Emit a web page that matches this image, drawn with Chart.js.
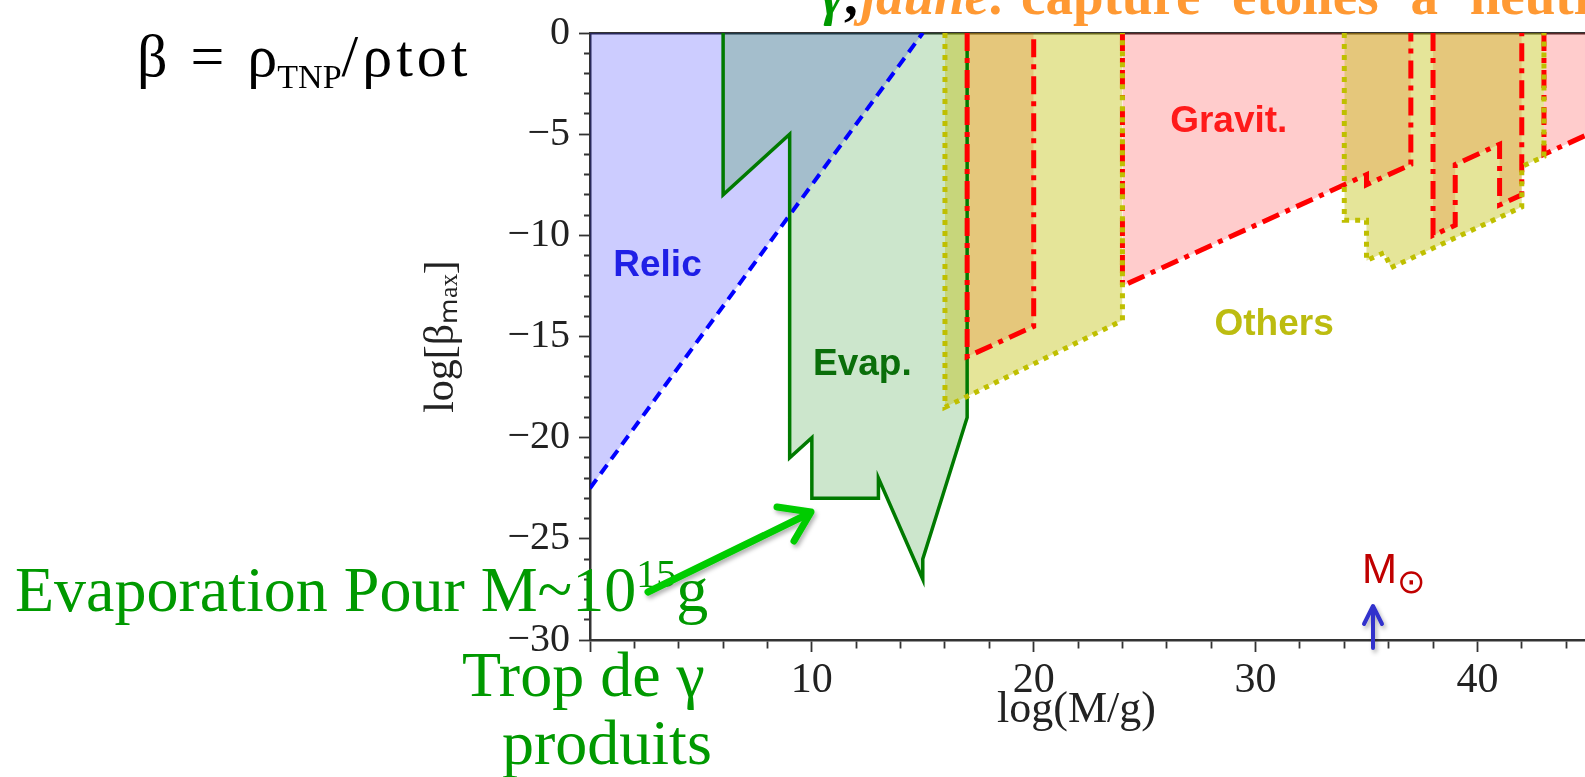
<!DOCTYPE html>
<html>
<head>
<meta charset="utf-8">
<script src="https://cdn.jsdelivr.net/npm/chart.js@4.4.1/dist/chart.umd.min.js"></script>
<style>
  html, body { margin: 0; padding: 0; background: #fff; overflow: hidden; }
  #wrap { position: relative; width: 1585px; height: 777px; overflow: hidden; }
  #chart { position: absolute; left: 0; top: 0; }
  .txt { position: absolute; white-space: nowrap; line-height: 1; font-family: "Liberation Serif", "Times New Roman", serif; }
  svg { position: absolute; left: 0; top: 0; }
</style>
</head>
<body>
<div id="wrap">
  <canvas id="chart" width="1585" height="777"></canvas>

  <div class="txt" style="left:821px; top:-32px; font-size:55px; font-weight:bold; color:#ff9933;"><span style="color:#009900; font-style:italic;">γ</span><span style="color:#000;">,</span><span style="margin-left:3px;"><i>jaune:</i></span> <span style="word-spacing:18px;">capture étoiles à neutrons</span></div>
  <div class="txt" style="left:137px; top:26px; font-size:60px; color:#000; word-spacing:8px;">β = ρ<span style="font-size:34px; position:relative; top:12px;">TNP</span><span style="letter-spacing:4px;">/ρtot</span></div>
  <div class="txt" style="left:15px; top:558px; font-size:64px; color:#009900;">Evaporation Pour M~10<span style="font-size:40px; position:relative; top:-24px;">15</span>g</div>
  <div class="txt" style="left:462px; top:643px; font-size:64px; color:#009900;">Trop de γ</div>
  <div class="txt" style="left:502px; top:711px; font-size:64px; color:#009900;">produits</div>
  <div class="txt" style="left:1362px; top:548px; font-size:42px; color:#c00000; font-family:'Liberation Sans', sans-serif;">M<span style="font-size:34px; position:relative; top:10px;">⊙</span></div>

  <svg width="1585" height="777" viewBox="0 0 1585 777">
    <defs>
      <filter id="sh" x="-20%" y="-20%" width="140%" height="140%">
        <feDropShadow dx="2" dy="3" stdDeviation="2" flood-color="#000" flood-opacity="0.3"/>
      </filter>
    </defs>
    <g filter="url(#sh)" fill="none" stroke-linecap="round" stroke-linejoin="round">
      <line x1="648" y1="592" x2="808" y2="514" stroke="#00cc00" stroke-width="7"/>
      <polyline points="777,507 811,512 794,541" stroke="#00cc00" stroke-width="7"/>
      <line x1="1373" y1="648" x2="1373" y2="608" stroke="#3333cc" stroke-width="4"/>
      <polyline points="1364,624 1373,606 1382,624" stroke="#3333cc" stroke-width="4"/>
    </g>
  </svg>
</div>

<script>
// limites : x = log(M/g), y = log(beta_max)
const relicX = [0, 15];
const relicY = [-22.5, 0];

const evapX = [6, 6, 9, 9, 10, 10, 13, 13, 15, 15, 17, 17];
const evapY = [0, -8, -5, -21, -20, -23, -23, -22, -27, -26, -19, 0];

const gravitAX = [17, 17, 20, 20];
const gravitAY = [0, -16, -14.5, 0];
const gravitBX = [24, 24, 35, 35, 37, 37];
const gravitBY = [0, -12.5, -7, -7.5, -6.5, 0];
const gravitCX = [38, 38, 39, 39, 41, 41, 42, 42];
const gravitCY = [0, -10, -9.5, -6.5, -5.5, -8.5, -8, 0];
const gravitDX = [43, 43, 47];
const gravitDY = [0, -6, -4];

const othersAX = [16, 16, 24, 24];
const othersAY = [0, -18.5, -14.2, 0];
const othersBX = [34, 34, 35, 35, 35.8, 36.1, 42, 42, 43, 43];
const othersBY = [0, -9.25, -9.25, -11.25, -10.85, -11.6, -8.6, -6.6, -6.1, 0];

// etiquettes des regions
const labelTexts = ['Relic', 'Evap.', 'Gravit.', 'Others'];
const labelX = [1.05, 10.05, 26.15, 28.15];
const labelY = [-12.0, -16.9, -4.9, -14.95];

// ticks
const xMajor = [10, 20, 30, 40];
const yMajor = [-30, -25, -20, -15, -10, -5, 0];
const xTicks = [];
for (let v = 0; v <= 44; v += 2) xTicks.push(v);
const yTicks = [];
for (let v = -30; v <= 0; v++) yTicks.push(v);

function pts(xs, ys) {
  return xs.map((x, i) => ({x: x, y: ys[i]}));
}

function fmt(v) {
  return v < 0 ? '\u2212' + (-v) : String(v);
}

const yellow = {borderColor: 'rgb(191,191,0)', backgroundColor: 'rgba(191,191,0,0.4)', borderDash: [5, 6], borderWidth: 5, fill: {value: 0}};
const red = {borderColor: '#ff0000', backgroundColor: 'rgba(255,0,0,0.2)', borderDash: [18, 7, 5, 7], borderWidth: 5, fill: {value: 0}};

const labelColors = ['#1f1fe6', '#0a6e0a', '#ff1a1a', '#bcbc10'];

const regionLabels = {
  id: 'regionLabels',
  afterDatasetsDraw(chart) {
    const c = chart.ctx;
    const x = chart.scales.x, y = chart.scales.y;
    c.save();
    c.font = 'bold 37px "Liberation Sans", sans-serif';
    c.textAlign = 'left';
    c.textBaseline = 'alphabetic';
    labelTexts.forEach((t, i) => {
      c.fillStyle = labelColors[i];
      c.fillText(t, x.getPixelForValue(labelX[i]), y.getPixelForValue(labelY[i]));
    });
    c.restore();
  }
};

const ctx = document.getElementById('chart').getContext('2d');

new Chart(ctx, {
  type: 'line',
  data: {
    datasets: [
      Object.assign({label: 'Others', data: pts(othersAX, othersAY)}, yellow),
      Object.assign({label: 'Others', data: pts(othersBX, othersBY)}, yellow),
      Object.assign({label: 'Gravit.', data: pts(gravitAX, gravitAY)}, red),
      Object.assign({label: 'Gravit.', data: pts(gravitBX, gravitBY)}, red),
      Object.assign({label: 'Gravit.', data: pts(gravitCX, gravitCY)}, red),
      Object.assign({label: 'Gravit.', data: pts(gravitDX, gravitDY)}, red),
      {label: 'Evap.', data: pts(evapX, evapY), borderColor: '#007a00', backgroundColor: 'rgba(0,128,0,0.2)', borderWidth: 3.5, fill: {value: 0}},
      {label: 'Relic', data: pts(relicX, relicY), borderColor: '#0000ff', backgroundColor: 'rgba(0,0,255,0.2)', borderDash: [11, 7], borderWidth: 4, fill: {value: 0}}
    ]
  },
  options: {
    responsive: false,
    animation: false,
    devicePixelRatio: 1,
    layout: {padding: {left: 405, top: 28, right: 0, bottom: 0}},
    plugins: {
      legend: {display: false},
      tooltip: {enabled: false},
      filler: {drawTime: 'beforeDatasetsDraw'}
    },
    elements: {point: {radius: 0}, line: {tension: 0}},
    scales: {
      x: {
        type: 'linear', position: 'bottom', min: 0, max: 44.85,
        afterFit(s) { s.height = 137; },
        afterBuildTicks(s) { s.ticks = xTicks.map(v => ({value: v})); },
        ticks: {
          autoSkip: false, maxRotation: 0, padding: 4, color: '#222',
          font: {family: 'Liberation Serif', size: 42},
          callback: v => xMajor.includes(v) ? String(v) : ''
        },
        grid: {
          drawOnChartArea: false, drawTicks: true, tickLength: 12, tickColor: '#333', tickWidth: 1.8,
          tickBorderDash: c => (c.tick && c.tick.value % 10 === 0) ? [] : [7, 100]
        },
        border: {display: true, color: '#333', width: 2.5},
        title: {display: true, text: 'log(M/g)  ', color: '#222', font: {family: 'Liberation Serif', size: 44}, padding: {top: 0, bottom: 40}}
      },
      y: {
        type: 'linear', position: 'left', min: -30, max: 0,
        afterFit(s) { s.width = 185; },
        afterBuildTicks(s) { s.ticks = yTicks.map(v => ({value: v})); },
        ticks: {
          autoSkip: false, padding: 9, color: '#222',
          font: {family: 'Liberation Serif', size: 40},
          callback: v => yMajor.includes(v) ? fmt(v) : ''
        },
        grid: {
          drawOnChartArea: false, drawTicks: true, tickLength: 11, tickColor: '#333', tickWidth: 1.8,
          tickBorderDash: c => (c.tick && c.tick.value % 5 === 0) ? [] : [0, 5, 6, 100]
        },
        border: {display: true, color: '#333', width: 2.5},
        title: {display: true, text: 'log[βₘₐₓ]', color: '#222', font: {family: 'Liberation Serif', size: 42}, padding: {top: 12, bottom: 0}}
      },
      xt: {
        type: 'linear', position: 'top', min: 0, max: 44.85,
        afterFit(s) { s.height = 0; },
        ticks: {display: false},
        grid: {display: false, drawTicks: false},
        border: {display: true, color: '#333', width: 2.5}
      }
    }
  },
  plugins: [regionLabels]
});
</script>
</body>
</html>
